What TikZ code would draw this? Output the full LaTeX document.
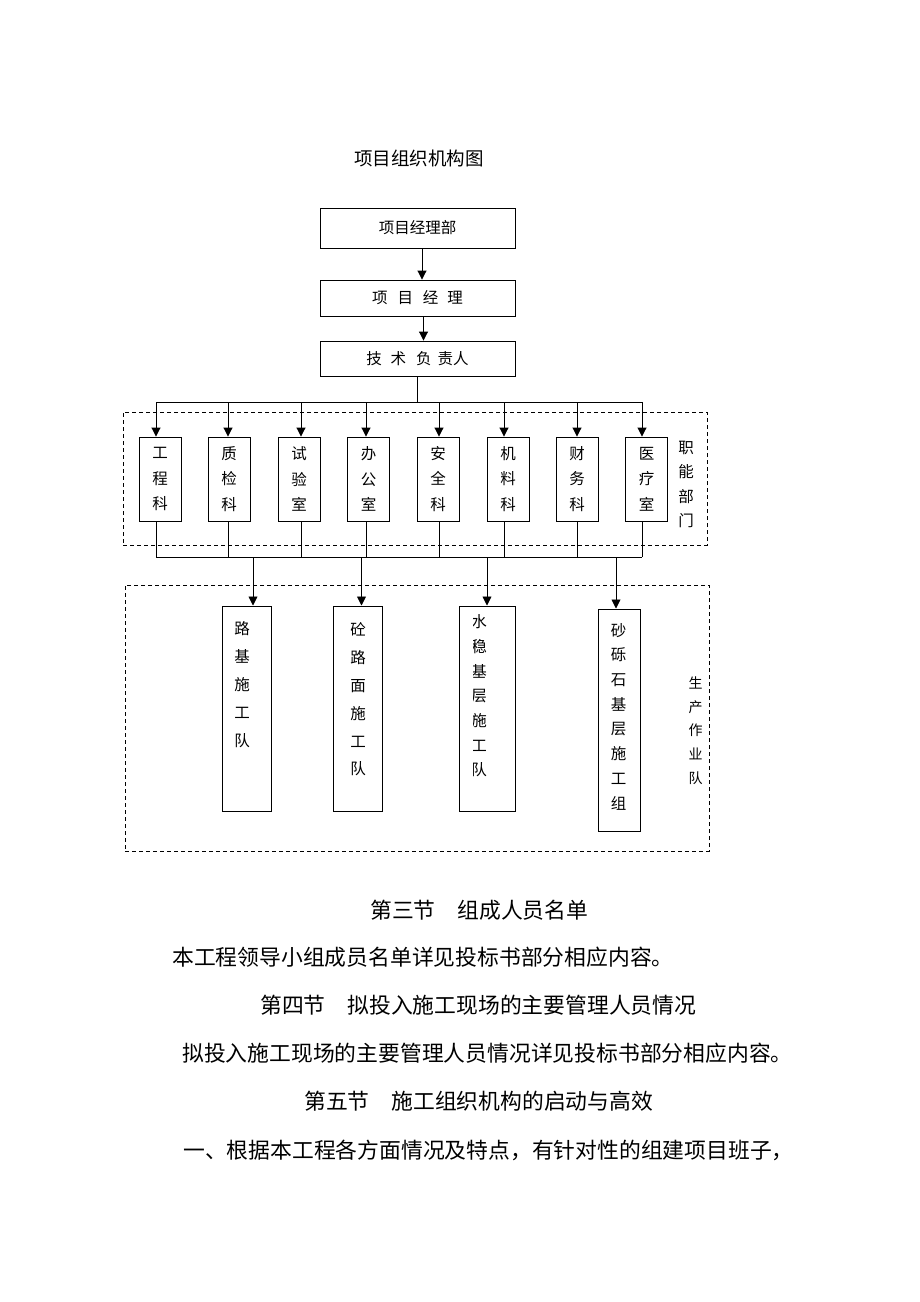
\documentclass[tikz,border=0pt]{standalone}
\usepackage{fontspec}
\setmainfont{Noto Sans CJK SC}
\usetikzlibrary{arrows.meta}
\begin{document}
\begin{tikzpicture}[x=1pt,y=-1pt,
  conn/.style={line width=0.9pt},
  arr/.style={conn,-{Triangle[length=9pt,width=9pt]}},
  topbox/.style={draw,line width=0.9pt,inner sep=0pt,minimum width=195pt,font=\fontsize{15.5}{18}\selectfont},
  fbox/.style={draw,line width=0.9pt,inner sep=0pt,minimum width=42pt,minimum height=84pt,align=center,font=\fontsize{15.5}{25.5}\selectfont},
  pbox/.style={draw,line width=1pt,inner sep=0pt},
  vtext/.style={inner sep=0pt,align=center},
  area/.style={draw,line width=0.8pt,dash pattern=on 4pt off 3pt},
  body/.style={inner sep=0pt,anchor=west,font=\fontsize{21.8}{24}\selectfont}]
\useasboundingbox[fill=white] (0,0) rectangle (920,1302);

% title
\node[inner sep=0pt,font=\fontsize{18.5}{20}\selectfont] (title) at (419,158) {项目组织机构图};

% top chain
\node[topbox,minimum height=40pt] (pmd) at (417.5,228) {项目经理部};
\node[topbox,minimum height=36pt] (pm) at (417.5,298) {项\hspace{10pt}目\hspace{10pt}经\hspace{9pt}理};
\node[topbox,minimum height=35pt] (tech) at (417.5,358.5) {技\hspace{9pt}术\hspace{10pt}负\hspace{6pt}责人};
\coordinate (a1) at (422,248);
\coordinate (a2) at (423.5,316);
\draw[arr] (a1) -- (a1 |- pm.north);
\draw[arr] (a2) -- (a2 |- tech.north);

% functional departments
\node[area,minimum width=584pt,minimum height=133pt,inner sep=0pt] (farea) at (415,478.5) {};
\node[fbox] (f1) at (160,479) {工\\程\\科};
\node[fbox] (f2) at (229,479) {质\\检\\科};
\node[fbox] (f3) at (299,479) {试\\验\\室};
\node[fbox] (f4) at (368.5,479) {办\\公\\室};
\node[fbox] (f5) at (438,479) {安\\全\\科};
\node[fbox] (f6) at (508,479) {机\\料\\科};
\node[fbox] (f7) at (577,479) {财\\务\\科};
\node[fbox] (f8) at (646.5,479) {医\\疗\\室};
\node[vtext,font=\fontsize{15.5}{24.3}\selectfont] (flab) at (686,484.5) {职\\能\\部\\门};

% upper bus
\coordinate (t0) at (417,402);
\coordinate (t1) at (156,402);
\coordinate (t2) at (228,402);
\coordinate (t3) at (301,402);
\coordinate (t4) at (366,402);
\coordinate (t5) at (439,402);
\coordinate (t6) at (504,402);
\coordinate (t7) at (577,402);
\coordinate (t8) at (642,402);
\draw[conn] (t0 |- tech.south) -- (t0);
\draw[conn] (t1) -- (t8);
\foreach \i in {1,...,8} {\draw[arr] (t\i) -- (t\i |- f\i.north);}

% lower bus
\coordinate (b1) at (156,557);
\coordinate (b2) at (228,557);
\coordinate (b3) at (301,557);
\coordinate (b4) at (366,557);
\coordinate (b5) at (439,557);
\coordinate (b6) at (504,557);
\coordinate (b7) at (577,557);
\coordinate (b8) at (642,557);
\foreach \i in {1,...,8} {\draw[conn] (b\i |- f\i.south) -- (b\i);}
\draw[conn] (b1) -- (b8);

% production teams
\node[area,minimum width=584pt,minimum height=266pt,inner sep=0pt] (parea) at (417,718) {};
\node[pbox,minimum width=49pt,minimum height=205pt] (r1) at (246.5,708.5) {};
\node[pbox,minimum width=49pt,minimum height=205pt] (r2) at (357.5,708.5) {};
\node[pbox,minimum width=56pt,minimum height=205pt] (r3) at (487,708.5) {};
\node[pbox,minimum width=42pt,minimum height=222pt] (r4) at (619,720) {};
\coordinate (p1) at (253,557);
\coordinate (p2) at (361.5,557);
\coordinate (p3) at (487,557);
\coordinate (p4) at (616,557);
\foreach \i in {1,...,4} {\draw[arr] (p\i) -- (p\i |- r\i.north);}

\node[vtext,font=\fontsize{15.5}{28}\selectfont] (r1t) at (242,685) {路\\基\\施\\工\\队};
\node[vtext,font=\fontsize{15.5}{27.8}\selectfont] (r2t) at (358,699.5) {砼\\路\\面\\施\\工\\队};
\begin{scope}
\clip (473.5,600) rectangle (520,810);
\node[vtext,font=\fontsize{15.5}{24.7}\selectfont] (r3t) at (479,696) {水\\稳\\基\\层\\施\\工\\队};
\end{scope}
\node[vtext,font=\fontsize{15.5}{24.7}\selectfont] (r4t) at (618.6,716.5) {砂\\砾\\石\\基\\层\\施\\工\\组};
\node[vtext,font=\fontsize{14}{23.75}\selectfont] (plab) at (695.6,730.5) {生\\产\\作\\业\\队};

% body text
\node[body] (h3) at (370,910) {第三节　组成人员名单};
\node[body] (l1) at (172,957) {本工程领导小组成员名单详见投标书部分相应内容。};
\node[body] (h4) at (260,1005) {第四节　拟投入施工现场的主要管理人员情况};
\node[body] (l2) at (182,1053) {拟投入施工现场的主要管理人员情况详见投标书部分相应内容。};
\node[body] (h5) at (304,1101) {第五节　施工组织机构的启动与高效};
\node[body] (l3) at (183,1150) {一、根据本工程各方面情况及特点，有针对性的组建项目班子，};
\end{tikzpicture}
\end{document}
